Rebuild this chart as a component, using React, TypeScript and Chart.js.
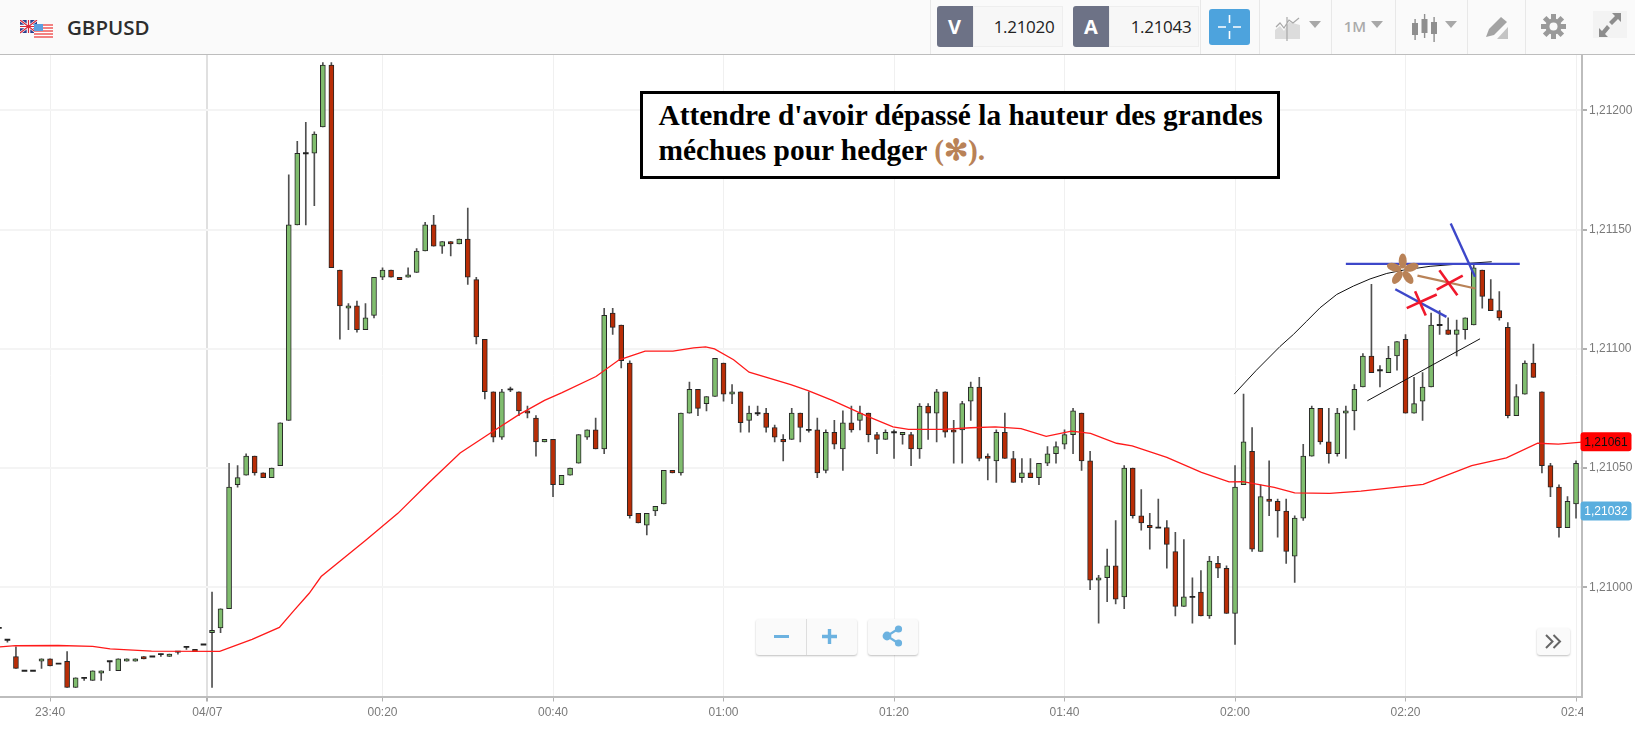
import React, { useEffect, useRef } from "react";
import { Chart, registerables } from "chart.js";

Chart.register(...registerables);

// Prices are in points above 1.21000 (1 point = 0.00001)
const opens = [
  -17,-22,-29,-35,-35,-31,-30,-32,-31,-42,
  -38,-39,-36,-31,-35,-31,-31,-29,-29,-28,
  -29,-27,-25,-26,-24,-19,-17,-9,43,47,
  55,48,46,51,70,152,182,182,193,219,
  133,117,118,108,114,130,133,130,130,132,
  141,152,143,145,144,146,129,104,82,63,
  83,82,74,71,61,62,43,47,52,63,
  66,58,115,110,94,31,26,32,35,49,
  48,73,83,77,80,94,81,82,70,73,
  73,67,62,62,73,66,66,49,65,58,
  69,70,73,64,62,65,64,64,58,76,
  73,82,66,66,78,84,55,53,65,54,
  46,48,46,52,56,60,64,73,53,3,
  4,9,-4,50,30,26,25,25,15,-8,
  -4,-2,-12,10,8,-11,43,57,15,37,
  36,32,13,29,55,75,61,56,73,74,
  84,97,91,90,97,104,73,78,84,110,
  108,106,108,110,133,121,116,109,72,81,
  94,82,51,42,25,35,
];
const highs = [
  -17,-22,-25,-35,-35,-30,-30,-32,-27,-38,
  -38,-35,-35,-31,-30,-30,-30,-29,-29,-28,
  -28,-27,-25,-26,-24,-2,-9,52,51,56,
  55,48,50,69,173,187,195,191,220,220,
  133,119,120,119,130,134,133,130,134,142,
  153,156,145,145,146,159,130,104,82,83,
  84,82,76,72,62,62,47,50,64,66,
  71,117,117,110,95,31,31,34,49,49,
  73,86,83,80,96,94,85,82,76,76,
  75,68,64,75,73,82,71,66,70,74,
  76,76,73,65,66,66,65,65,77,77,
  83,82,70,78,86,88,56,66,73,57,
  54,54,52,59,61,66,75,73,57,5,
  16,28,51,50,41,31,37,28,23,20,
  4,7,13,13,9,51,81,67,43,53,
  37,37,30,60,76,75,75,75,76,85,
  98,127,93,101,103,106,88,90,115,116,
  113,112,113,135,133,129,124,111,85,95,
  102,82,52,43,38,53,
];
const lows = [
  -17,-23,-34,-35,-35,-34,-33,-32,-42,-42,
  -39,-39,-39,-35,-35,-31,-31,-30,-29,-29,
  -29,-28,-26,-27,-24,-42,-19,-9,42,47,
  47,46,46,51,70,152,152,160,193,134,
  104,108,107,108,113,129,130,129,130,132,
  141,143,140,139,144,127,102,79,61,62,
  82,72,71,55,61,38,43,47,52,62,
  58,56,106,92,29,27,22,30,35,48,
  47,73,72,74,80,78,77,65,65,72,
  65,61,53,62,61,65,46,48,58,49,
  65,66,61,56,62,54,60,51,54,62,
  61,63,52,52,70,53,45,44,54,44,
  44,46,43,51,52,58,56,49,-1,-15,
  -6,-7,-9,29,24,16,25,8,-12,-8,
  -15,-12,-13,4,-11,-24,43,15,15,30,
  21,10,2,28,55,60,52,55,54,66,
  84,90,84,90,91,73,73,70,84,106,
  106,97,104,110,117,116,112,71,72,81,
  88,48,38,21,25,29,
];
const closes = [
  -17,-22,-34,-35,-35,-30,-33,-32,-42,-38,
  -38,-35,-35,-31,-30,-30,-30,-30,-29,-28,
  -28,-27,-25,-27,-24,-18,-9,42,46,55,
  48,46,50,69,152,182,182,190,219,134,
  118,118,108,113,130,133,130,129,131,141,
  152,143,145,144,146,130,105,82,63,82,
  83,74,73,61,62,43,47,50,64,66,
  58,114,109,95,30,27,31,34,49,48,
  73,83,75,80,96,81,82,69,73,73,
  67,63,61,73,67,66,48,65,60,69,
  66,73,64,62,65,65,65,58,76,73,
  82,65,65,77,84,54,54,65,54,44,
  48,46,52,56,59,64,74,53,3,4,
  9,-5,50,30,27,25,25,18,-8,-4,
  -4,-12,11,8,-11,42,61,16,38,36,
  32,15,29,55,75,61,56,73,74,83,
  97,90,91,96,103,73,77,84,110,110,
  106,108,113,134,122,116,113,72,80,94,
  88,51,42,25,36,52,
];

const maLine = [
  [0.04,-25],[1.95,-24.5],[6.95,-24.4],[11,-24.8],[13.05,-25.8],[17.9,-26.8],[25.9,-26.9],
  [29.7,-21.8],[32.9,-16.8],[34.6,-9.8],[36.4,-2.5],[37.8,4.5],[43.1,19.9],[46.8,31],
  [50.4,43.7],[54.1,56.3],[57.8,65],[61,72.4],[64,78.4],[66.06,81.6],[70.04,88.4],
  [72.76,95.4],[75.8,99],[79.07,99],[81.5,100.4],[82.9,100.8],[83.94,100],[86.18,95.4],
  [88,90.2],[92.89,85],[94.92,82.5],[97.76,78.4],[101.83,71.8],[104.88,67.3],[106.7,66.2],
  [110.77,66.2],[114.02,66.9],[116.87,67.3],[119.9,66.5],[122.85,63.3],[125.8,65.5],
  [128.05,64.5],[131.1,60.4],[132.93,59.3],[137,54.5],[141.06,48.2],[144.3,44.2],
  [145.93,44.3],[149.6,41.9],[152,39.6],[156.1,39.4],[159.76,40.3],[167.07,43.2],
  [172.76,51],[176.83,54.3],[180.5,60.4],[182.93,60],[186,61],
];

const timeTickIndex = [6, 24.45, 45, 65, 85, 105, 125, 145, 165, 185];
const timeTickLabels = ["23:40", "04/07", "00:20", "00:40", "01:00", "01:20", "01:40", "02:00", "02:20", "02:40"];
const priceTicks = [0, 50, 100, 150, 200];

const lastMa = 61;
const lastBid = 32;

// Hand-drawn annotations [candle index, points]
const arcLine = [
  [144.9,81],[147.5,91],[150.28,101],[151.84,106],[153.41,111.6],[154.97,117.2],[156.93,122.8],
  [158.88,126.3],[160.84,129.3],[162.8,131.6],[164.75,133],[167.88,134.6],[172.18,135.8],[175.11,136.5],
];
const trendLine = [[160.52,78.2],[173.74,104.2]];
const blueLevel = [[158,135.6],[178.4,135.6]];
const blueTop = [[170.3,152.5],[173.15,130.2]];
const blueLower = [[163.8,125],[169.8,113.4]];
const brownLine = [[166.4,130.7],[173.2,125.3]];
const redCross1a = [[165.14,117.04],[168.66,122.77]];
const redCross1b = [[166.12,124.16],[167.37,113.97]];
const redCross2a = [[168.66,124.86],[171.71,130.73]];
const redCross2b = [[168.97,132.96],[171.08,122.49]];
const flowerAt = [164.67, 133];

const GREEN = "#80bd6e";
const RED = "#b92d06";
const OUTLINE = "#262626";
const BLUE = "#3d47c9";
const BROWN = "#b98257";
const CROSS = "#f0182c";

const pts = (a: number[][]) => a.map(([x, y]) => ({ x, y }));
const lineDs = (data: number[][], color: string, width: number, order = 1) => ({
  type: "line" as const,
  data: pts(data),
  borderColor: color,
  borderWidth: width,
  pointRadius: 0,
  tension: 0,
  fill: false,
  order,
});

const overlayPlugin = {
  id: "overlay",
  afterDraw(chart: any) {
    const { ctx, scales } = chart;
    const x = scales.x;
    const y = scales.y;
    ctx.save();
    // flower mark: five petals around the anchor point
    const fx = x.getPixelForValue(flowerAt[0]);
    const fy = y.getPixelForValue(flowerAt[1]);
    ctx.fillStyle = BROWN;
    for (let k = 0; k < 5; k++) {
      const a = -Math.PI / 2 + (k * 2 * Math.PI) / 5;
      ctx.beginPath();
      ctx.ellipse(fx + Math.cos(a) * 9, fy + Math.sin(a) * 9, 7.5, 4, a, 0, Math.PI * 2);
      ctx.fill();
    }
    // price tags
    const tag = (v: number, bg: string, fg: string) => {
      const py = y.getPixelForValue(v);
      ctx.fillStyle = bg;
      ctx.beginPath();
      ctx.roundRect(1580.5, py - 9.5, 51, 19, 3);
      ctx.fill();
      ctx.fillStyle = fg;
      ctx.font = "12px 'Liberation Sans'";
      ctx.textAlign = "center";
      ctx.textBaseline = "middle";
      ctx.fillText(((121000 + v) / 100000).toFixed(5).replace(".", ","), 1606, py + 0.5);
    };
    tag(lastMa, "#ff0000", "#111111");
    tag(lastBid, "#5aaede", "#ffffff");
    ctx.restore();
  },
};

const box = (l: number, t: number, w: number, h: number, extra: React.CSSProperties = {}): React.CSSProperties => ({
  position: "absolute",
  left: l,
  top: t,
  width: w,
  height: h,
  boxSizing: "border-box",
  ...extra,
});

const Sep = ({ x }: { x: number }) => <div style={box(x, 0, 1, 54, { background: "#e8e8e8" })} />;
const Caret = ({ x }: { x: number }) => (
  <svg style={box(x - 6, 21, 12, 7)} viewBox="0 0 12 7"><path d="M0 0H12L6 7Z" fill="#a8a8a8" /></svg>
);

function Header() {
  return (
    <div style={box(0, 0, 1635, 55, { background: "#fafafa", borderBottom: "1px solid #bdbdbd" })}>
      <svg style={box(20, 20, 33, 18)} viewBox="0 0 33 18">
        <rect x="0" y="0" width="17" height="13" fill="#2a3f8f" />
        <path d="M0 0L17 13M17 0L0 13" stroke="#fff" strokeWidth="2.4" />
        <path d="M8.5 0V13M0 6.5H17" stroke="#fff" strokeWidth="3.6" />
        <path d="M8.5 0V13M0 6.5H17M0 0L17 13M17 0L0 13" stroke="#d8283a" strokeWidth="1.2" />
        <rect x="14" y="4" width="19" height="14" fill="#fff" />
        <path d="M14 5H33M14 8H33M14 11H33M14 14H33M14 17H33" stroke="#ee5a5a" strokeWidth="1.6" />
        <rect x="14" y="4" width="9" height="7" fill="#5aa0e0" />
      </svg>
      <div style={box(67, 12, 100, 30, { font: "600 20.5px 'Open Sans'", color: "#2d2d2d", lineHeight: "30px" })}>GBPUSD</div>
      <Sep x={930} />
      <div style={box(936.5, 6, 36, 41, { background: "#6d7286", borderRadius: "3px 0 0 3px", color: "#fff", font: "700 20px 'Open Sans'", textAlign: "center", lineHeight: "41px" })}>V</div>
      <div style={box(972.5, 6, 90, 41, { background: "#f7f7f7", border: "1px solid #eeeeee", color: "#222", font: "400 17px 'Open Sans'", textAlign: "center", lineHeight: "39px", letterSpacing: "-0.3px", paddingLeft: 13 })}>1.21020</div>
      <div style={box(1073, 6, 36, 41, { background: "#6d7286", borderRadius: "3px 0 0 3px", color: "#fff", font: "700 20px 'Open Sans'", textAlign: "center", lineHeight: "41px" })}>A</div>
      <div style={box(1109, 6, 90, 41, { background: "#f7f7f7", border: "1px solid #eeeeee", color: "#222", font: "400 17px 'Open Sans'", textAlign: "center", lineHeight: "39px", letterSpacing: "-0.3px", paddingLeft: 14 })}>1.21043</div>
      <Sep x={1200} />
      <div style={box(1208.5, 9, 41.5, 36, { background: "#4da3dd", borderRadius: 3 })}>
        <svg width="41" height="36" viewBox="0 0 41 36">
          <path d="M20.5 6V14M20.5 22V30M9 18H17M24 18H32" stroke="#fff" strokeWidth="1.6" />
        </svg>
      </div>
      <Sep x={1258.5} />
      <svg style={box(1275, 17, 25, 24)} viewBox="0 0 25 24">
        <path d="M0 22V13L5 9L9 14L14 5L25 8V22Z" fill="#dcdcdc" />
        <path d="M1 10L5 6L9 11L14 3L18 6L24 1M12 0V24" stroke="#a8a8a8" strokeWidth="1.2" fill="none" />
      </svg>
      <Caret x={1315} />
      <Sep x={1331} />
      <div style={box(1340, 14, 30, 24, { font: "600 15px 'Open Sans'", color: "#aaa", lineHeight: "24px", textAlign: "center" })}>1M</div>
      <Caret x={1377} />
      <Sep x={1394.5} />
      <svg style={box(1411, 14, 27, 28)} viewBox="0 0 27 28" fill="#8f8f8f">
        <rect x="1" y="9" width="6" height="12" />
        <rect x="3.4" y="5" width="1.4" height="21" />
        <rect x="10.5" y="5" width="6" height="14" />
        <rect x="12.9" y="0" width="1.4" height="24" />
        <rect x="20" y="8" width="6" height="12" />
        <rect x="22.4" y="3" width="1.4" height="25" />
      </svg>
      <Caret x={1451} />
      <Sep x={1467} />
      <svg style={box(1484, 15, 25, 25)} viewBox="0 0 25 25">
        <path d="M2 22L5 14L17 2L23 7L10 20Z" fill="#a3a3a3" />
        <path d="M13 24H24V12Z" fill="#c4c4c4" />
      </svg>
      <Sep x={1524.5} />
      <svg style={box(1541, 14, 25, 25)} viewBox="-12.5 -12.5 25 25">
        <circle r="8" fill="#9a9a9a" />
        <path d="M-2.5 -12.5H2.5V12.5H-2.5Z" fill="#9a9a9a" />
        <path d="M-2.5 -12.5H2.5V12.5H-2.5Z" fill="#9a9a9a" transform="rotate(45)" />
        <path d="M-2.5 -12.5H2.5V12.5H-2.5Z" fill="#9a9a9a" transform="rotate(90)" />
        <path d="M-2.5 -12.5H2.5V12.5H-2.5Z" fill="#9a9a9a" transform="rotate(135)" />
        <circle r="4" fill="#fafafa" />
      </svg>
      <div style={box(1593, 11, 34, 27, { background: "#f3f3f3" })} />
      <svg style={box(1598, 12, 24, 26)} viewBox="0 0 24 26">
        <path d="M14 1H23V10L20 7L14 13L11 10L17 4ZM1 25V16L4 19L9 13L12 16L7 22L10 25Z" fill="#8d8d8d" />
      </svg>
    </div>
  );
}

function Controls() {
  const card: React.CSSProperties = { background: "#fafafa", borderRadius: 3, boxShadow: "0 1px 2px rgba(0,0,0,0.25)" };
  return (
    <>
      <div style={box(756, 619, 101, 36, card)} />
      <div style={box(805.5, 619, 1, 36, { background: "#dedede" })} />
      <div style={box(774, 634.5, 15, 3.5, { background: "#6cb2e0" })} />
      <svg style={box(822, 629, 15, 15)} viewBox="0 0 15 15"><path d="M5.8 0H9.2V5.8H15V9.2H9.2V15H5.8V9.2H0V5.8H5.8Z" fill="#6cb2e0" /></svg>
      <div style={box(867.5, 619, 50, 36, card)} />
      <svg style={box(882, 625, 21, 22)} viewBox="0 0 21 22">
        <path d="M16 4L5 11L16 18" stroke="#6cb2e0" strokeWidth="2.2" fill="none" />
        <circle cx="16.5" cy="4" r="3.6" fill="#6cb2e0" />
        <circle cx="5" cy="11" r="4.4" fill="#6cb2e0" />
        <circle cx="16.5" cy="18" r="3.6" fill="#6cb2e0" />
      </svg>
      <div style={box(1536.5, 628, 33.5, 27, card)} />
      <svg style={box(1545, 634, 17, 15)} viewBox="0 0 17 15">
        <path d="M1 1L7.5 7.5L1 14M8.5 1L15 7.5L8.5 14" stroke="#666" strokeWidth="2" fill="none" />
      </svg>
    </>
  );
}

export default function App() {
  const ref = useRef<HTMLCanvasElement | null>(null);

  useEffect(() => {
    if (!ref.current) return;
    const idx = opens.map((_, i) => i);
    const isDoji = (i: number) => opens[i] === closes[i];
    const bodies = idx.map((i) =>
      isDoji(i)
        ? { x: i, y: [opens[i] - 0.25, opens[i] + 0.25] }
        : { x: i, y: [Math.min(opens[i], closes[i]), Math.max(opens[i], closes[i])] }
    );
    const wicks = idx.map((i) => ({ x: i, y: [lows[i], highs[i]] }));
    const chart = new Chart(ref.current, {
      type: "bar",
      data: {
        datasets: [
          {
            data: wicks as any,
            backgroundColor: "#505050",
            barThickness: 1,
            grouped: false,
            order: 6,
          },
          {
            data: bodies as any,
            backgroundColor: idx.map((i) => (isDoji(i) ? "#222222" : closes[i] > opens[i] ? GREEN : RED)),
            borderColor: OUTLINE,
            borderWidth: idx.map((i) => (isDoji(i) ? 0 : 1)),
            borderSkipped: false,
            barThickness: 5,
            grouped: false,
            order: 5,
          },
          lineDs(maLine, "#ff1a1a", 1.3, 4),
          lineDs(arcLine, "#111111", 1, 3),
          lineDs(trendLine, "#111111", 1, 3),
          lineDs(brownLine, BROWN, 2.2, 2),
          lineDs(blueLevel, BLUE, 2.4, 2),
          lineDs(blueTop, BLUE, 2.4, 2),
          lineDs(blueLower, BLUE, 2.4, 2),
          lineDs(redCross1a, CROSS, 2.6, 1),
          lineDs(redCross1b, CROSS, 2.6, 1),
          lineDs(redCross2a, CROSS, 2.6, 1),
          lineDs(redCross2b, CROSS, 2.6, 1),
        ] as any,
      },
      options: {
        animation: false,
        responsive: false,
        devicePixelRatio: 1,
        layout: { autoPadding: false, padding: { top: 55, left: 0, right: 0, bottom: 0 } },
        plugins: { legend: { display: false }, tooltip: { enabled: false }, title: { display: false } },
        scales: {
          x: {
            type: "linear",
            offset: false,
            min: 0.129,
            max: 185.7,
            afterBuildTicks: (s: any) => {
              s.ticks = timeTickIndex.map((value) => ({ value }));
            },
            afterFit: (s: any) => {
              s.height = 32.5;
            },
            grid: {
              offset: false,
              color: (c: any) => (c.tick && c.tick.value === 24.45 ? "#e0e0e0" : "#f0f0f0"),
              lineWidth: (c: any) => (c.tick && c.tick.value === 24.45 ? 2 : 1),
              tickColor: "#b0b0b0",
              tickLength: 5,
            },
            border: { color: "#bdbdbd", width: 2 },
            ticks: {
              autoSkip: false,
              maxRotation: 0,
              padding: 3.5,
              color: "#7a7a7a",
              font: { family: "'Liberation Sans'", size: 12 },
              callback: (v: any) => timeTickLabels[timeTickIndex.indexOf(Number(v))],
            },
          },
          y: {
            type: "linear",
            position: "right",
            min: -45.79,
            max: 223.2,
            afterBuildTicks: (s: any) => {
              s.ticks = priceTicks.map((value) => ({ value }));
            },
            afterFit: (s: any) => {
              s.width = 53;
            },
            grid: { color: "#f4f4f4", lineWidth: 2, tickColor: "#b0b0b0", tickLength: 5 },
            border: { color: "#bdbdbd", width: 2 },
            ticks: {
              padding: 2,
              color: "#7a7a7a",
              crossAlign: "near",
              font: { family: "'Liberation Sans'", size: 12 },
              callback: (v: any) => ((121000 + Number(v)) / 100000).toFixed(5).replace(".", ","),
            },
          },
        },
      } as any,
      plugins: [overlayPlugin],
    } as any);
    return () => chart.destroy();
  }, []);

  return (
    <div style={{ position: "fixed", left: 0, top: 0, width: 1635, height: 729, overflow: "hidden", background: "#fff" }}>
      <canvas ref={ref} width={1635} height={729} style={{ display: "block" }} />
      <div style={box(1582.5, 699, 53, 30, { background: "#fff" })} />
      <Header />
      <Controls />
      <div
        style={box(639.5, 91, 640, 88, {
          background: "#fff",
          border: "3px solid #000",
          font: "700 29.4px 'Liberation Serif'",
          color: "#000",
          lineHeight: "35px",
          padding: "4px 0 0 16px",
          whiteSpace: "nowrap",
        })}
      >
        Attendre d'avoir dépassé la hauteur des grandes
        <br />
        méchues pour hedger <span style={{ color: BROWN }}>({"\u273B"}).</span>
      </div>
    </div>
  );
}
